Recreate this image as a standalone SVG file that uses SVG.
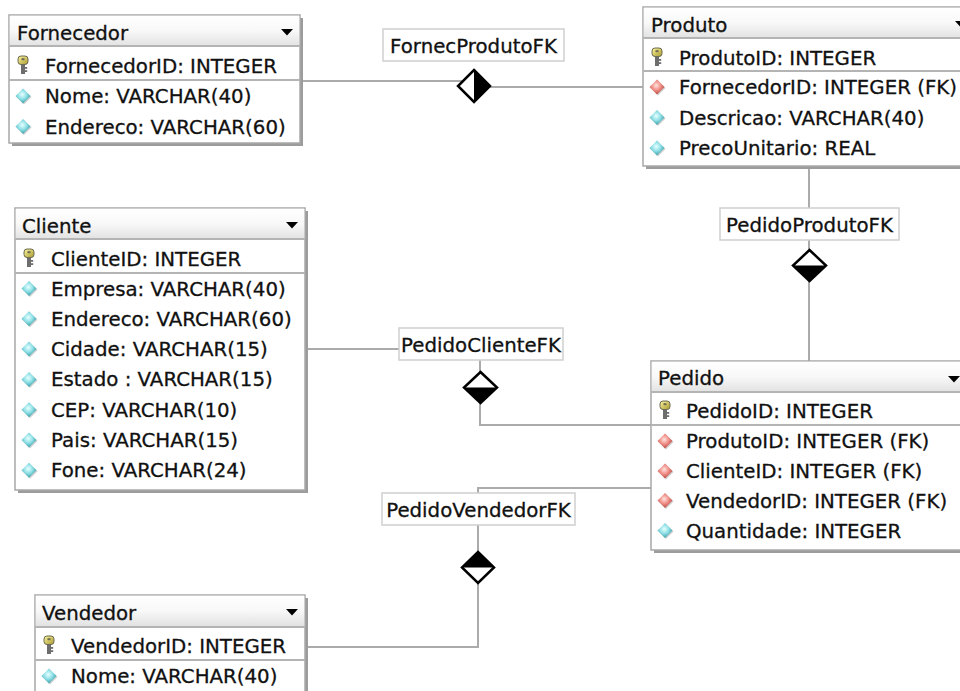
<svg xmlns="http://www.w3.org/2000/svg" width="960" height="691" viewBox="0 0 960 691">
<style>
text{font-family:"DejaVu Sans","Verdana",sans-serif;font-size:19.8px;fill:#111;stroke:#111;stroke-width:0.3}
.lbl{text-anchor:middle}
.box{fill:#fff;stroke:#a8a8a8;stroke-width:1.5}
.shadow{fill:#9c9c9c}
.hdr{fill:url(#hg)}
.sep{stroke:#b4b4b4;stroke-width:2}
.tri{fill:#000}
.conn{fill:none;stroke:#ababab;stroke-width:2}
.lblbox{fill:#fff;stroke:#cfcfcf;stroke-width:1.5}
.dia{fill:#fff;stroke:#000;stroke-width:2.5;stroke-linejoin:miter}
.half{fill:#000}
</style>
<defs>
<linearGradient id="hg" x1="0" y1="0" x2="0" y2="1">
<stop offset="0" stop-color="#ffffff"/>
<stop offset="0.5" stop-color="#f8f8f8"/>
<stop offset="1" stop-color="#e2e2e2"/>
</linearGradient>
<radialGradient id="cy" cx="0.45" cy="0.4" r="0.6">
<stop offset="0" stop-color="#e8ffff"/>
<stop offset="0.5" stop-color="#8fe0e6"/>
<stop offset="1" stop-color="#3b9ea8"/>
</radialGradient>
<radialGradient id="rd" cx="0.45" cy="0.4" r="0.6">
<stop offset="0" stop-color="#ffe4e0"/>
<stop offset="0.5" stop-color="#f09088"/>
<stop offset="1" stop-color="#b84a44"/>
</radialGradient>
<linearGradient id="kg" x1="0" y1="0" x2="1" y2="1">
<stop offset="0" stop-color="#fff8a0"/>
<stop offset="1" stop-color="#a89830"/>
</linearGradient>
<g id="attr">
<polygon points="1,-6.5 8.5,1 1,8.5 -6.5,1" fill="#999" opacity="0.45"/>
<polygon points="0,-7.5 7.5,0 0,7.5 -7.5,0" fill="url(#cy)"/>
</g>
<g id="fk">
<polygon points="1,-6.5 8.5,1 1,8.5 -6.5,1" fill="#999" opacity="0.45"/>
<polygon points="0,-7.5 7.5,0 0,7.5 -7.5,0" fill="url(#rd)"/>
</g>
<g id="key">
<rect x="-5" y="-9" width="10" height="8.5" rx="3" fill="url(#kg)" stroke="#6a6a50" stroke-width="1"/>
<rect x="-1.5" y="-6.8" width="3" height="2" fill="#6a6a50"/>
<rect x="-2" y="-0.5" width="4" height="9.5" fill="#6d6d6d"/>
<rect x="2" y="2" width="2.2" height="1.8" fill="#6d6d6d"/>
<rect x="2" y="5.2" width="2.2" height="1.8" fill="#6d6d6d"/>
</g>
</defs>

<g id="connectors">
<path class="conn" d="M303,81 H466"/>
<path class="conn" d="M489,87 H643"/>
<path class="conn" d="M809,166 V250 M809,281 V361"/>
<path class="conn" d="M308,349 H399 M480,360 V372 M480,403 V425 H651"/>
<path class="conn" d="M651,488 H478 V552 M478,583 V647 H308"/>

<polygon class="dia" points="474,70 490,86 474,102 458,86"/>
<polygon class="half" points="474,70 490,86 474,102"/>
<rect class="lblbox" x="383" y="29" width="181" height="32"/>
<text class="lbl" x="473.5" y="52.5">FornecProdutoFK</text>

<rect class="lblbox" x="720" y="208" width="179" height="32"/>
<text class="lbl" x="809.5" y="232">PedidoProdutoFK</text>
<polygon class="dia" points="809.5,250 826,265.5 809.5,281 793,265.5"/>
<polygon class="half" points="793,265.5 826,265.5 809.5,281"/>

<rect class="lblbox" x="399" y="328" width="164" height="32"/>
<text class="lbl" x="481" y="352">PedidoClienteFK</text>
<polygon class="dia" points="480.5,372 497,387.5 480.5,403 464,387.5"/>
<polygon class="half" points="464,387.5 497,387.5 480.5,403"/>

<rect class="lblbox" x="382" y="493" width="193" height="32"/>
<text class="lbl" x="478.5" y="517">PedidoVendedorFK</text>
<polygon class="dia" points="478,552 494,567.5 478,583 462,567.5"/>
<polygon class="half" points="462,567.5 494,567.5 478,552"/>
</g>

<g id="Fornecedor">
<rect class="shadow" x="12" y="18" width="291" height="128"/>
<rect class="box" x="9" y="15" width="291" height="128"/>
<rect class="hdr" x="9.75" y="15.75" width="289.5" height="30.25"/>
<line class="sep" x1="9" y1="46" x2="300" y2="46"/>
<line class="sep" x1="9" y1="80" x2="300" y2="80"/>
<text x="17" y="40">Fornecedor</text>
<polygon class="tri" points="281,29 293,29 287,35.5"/>
<use href="#key" transform="translate(23,65)"/>
<text x="45" y="73">FornecedorID: INTEGER</text>
<use href="#attr" transform="translate(23,96)"/>
<text x="45" y="103">Nome: VARCHAR(40)</text>
<use href="#attr" transform="translate(23,126.5)"/>
<text x="45" y="133.5">Endereco: VARCHAR(60)</text>
</g>

<g id="Produto">
<rect class="shadow" x="646" y="10" width="331" height="159"/>
<rect class="box" x="643" y="7" width="331" height="159"/>
<rect class="hdr" x="643.75" y="7.75" width="329.5" height="30.25"/>
<line class="sep" x1="643" y1="38" x2="974" y2="38"/>
<line class="sep" x1="643" y1="71" x2="974" y2="71"/>
<text x="651" y="32">Produto</text>
<polygon class="tri" points="955,21 967,21 961,27.5"/>
<use href="#key" transform="translate(657,57)"/>
<text x="679" y="65">ProdutoID: INTEGER</text>
<use href="#fk" transform="translate(657,87)"/>
<text x="679" y="94">FornecedorID: INTEGER (FK)</text>
<use href="#attr" transform="translate(657,117.5)"/>
<text x="679" y="124.5">Descricao: VARCHAR(40)</text>
<use href="#attr" transform="translate(657,148)"/>
<text x="679" y="155">PrecoUnitario: REAL</text>
</g>

<g id="Cliente">
<rect class="shadow" x="18" y="211" width="290" height="282"/>
<rect class="box" x="15" y="208" width="290" height="282"/>
<rect class="hdr" x="15.75" y="208.75" width="288.5" height="30.25"/>
<line class="sep" x1="15" y1="239" x2="305" y2="239"/>
<line class="sep" x1="15" y1="273" x2="305" y2="273"/>
<text x="22" y="233">Cliente</text>
<polygon class="tri" points="286,222 298,222 292,228.5"/>
<use href="#key" transform="translate(29,258)"/>
<text x="51" y="266">ClienteID: INTEGER</text>
<use href="#attr" transform="translate(29,288.5)"/>
<text x="51" y="295.5">Empresa: VARCHAR(40)</text>
<use href="#attr" transform="translate(29,318.8)"/>
<text x="51" y="325.8">Endereco: VARCHAR(60)</text>
<use href="#attr" transform="translate(29,349.1)"/>
<text x="51" y="356.1">Cidade: VARCHAR(15)</text>
<use href="#attr" transform="translate(29,379.4)"/>
<text x="51" y="386.4">Estado : VARCHAR(15)</text>
<use href="#attr" transform="translate(29,409.7)"/>
<text x="51" y="416.7">CEP: VARCHAR(10)</text>
<use href="#attr" transform="translate(29,440)"/>
<text x="51" y="447">Pais: VARCHAR(15)</text>
<use href="#attr" transform="translate(29,470.3)"/>
<text x="51" y="477.3">Fone: VARCHAR(24)</text>
</g>

<g id="Pedido">
<rect class="shadow" x="654" y="364" width="316" height="189"/>
<rect class="box" x="651" y="361" width="316" height="189"/>
<rect class="hdr" x="651.75" y="361.75" width="314.5" height="30.25"/>
<line class="sep" x1="651" y1="392" x2="967" y2="392"/>
<line class="sep" x1="651" y1="425" x2="967" y2="425"/>
<text x="658" y="385">Pedido</text>
<polygon class="tri" points="948,376 960,376 954,382.5"/>
<use href="#key" transform="translate(665,410)"/>
<text x="686" y="417.5">PedidoID: INTEGER</text>
<use href="#fk" transform="translate(665,441)"/>
<text x="686" y="448">ProdutoID: INTEGER (FK)</text>
<use href="#fk" transform="translate(665,471)"/>
<text x="686" y="478">ClienteID: INTEGER (FK)</text>
<use href="#fk" transform="translate(665,500.5)"/>
<text x="686" y="507.5">VendedorID: INTEGER (FK)</text>
<use href="#attr" transform="translate(665,530.5)"/>
<text x="686" y="537.5">Quantidade: INTEGER</text>
</g>

<g id="Vendedor">
<rect class="shadow" x="38" y="598" width="270" height="120"/>
<rect class="box" x="35" y="595" width="270" height="120"/>
<rect class="hdr" x="35.75" y="595.75" width="268.5" height="30.25"/>
<line class="sep" x1="35" y1="627" x2="305" y2="627"/>
<line class="sep" x1="35" y1="660" x2="305" y2="660"/>
<text x="42" y="620">Vendedor</text>
<polygon class="tri" points="286,609 298,609 292,615.5"/>
<use href="#key" transform="translate(49,645)"/>
<text x="71" y="652.5">VendedorID: INTEGER</text>
<use href="#attr" transform="translate(49,676)"/>
<text x="71" y="683">Nome: VARCHAR(40)</text>
</g>
</svg>
